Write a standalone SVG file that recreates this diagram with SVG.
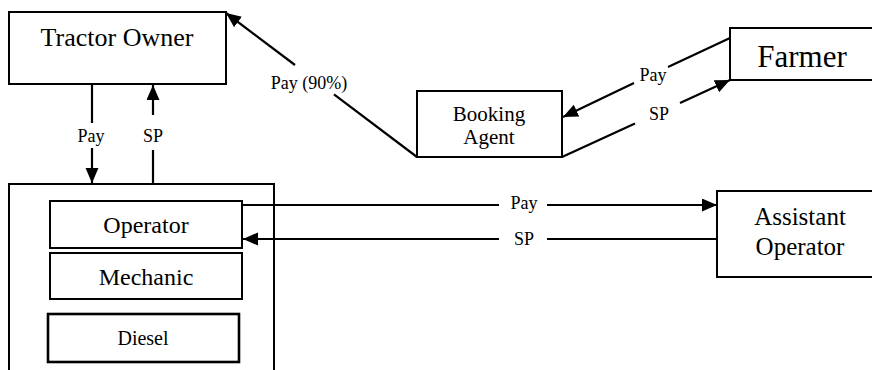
<svg xmlns="http://www.w3.org/2000/svg" width="872" height="370" viewBox="0 0 872 370">
<style>
.box{fill:#fff;stroke:#000;stroke-width:2}
.thick{stroke-width:2.6}
text{font-family:"Liberation Serif","Times New Roman",Times,"DejaVu Serif","Noto Serif",serif;fill:#000;text-anchor:middle}
.lbl{font-size:18px}
.ln{stroke:#000;stroke-width:2.2;fill:none}
.ar{marker-end:url(#ah)}
</style>
<defs>
<marker id="ah" markerUnits="userSpaceOnUse" markerWidth="16" markerHeight="14" refX="15" refY="6.5" orient="auto">
<path d="M0,0 L15,6.5 L0,13 Z" fill="#000"/>
</marker>
</defs>
<rect width="872" height="370" fill="#fff"/>
<g id="tractor-owner">
<rect class="box" x="9" y="12" width="217" height="72"/>
<text x="117" y="46" font-size="26">Tractor Owner</text>
</g>
<g id="operator-group">
<rect class="box" x="9" y="184" width="265" height="190"/>
</g>
<g id="operator">
<rect class="box" x="50" y="201" width="192" height="47"/>
<text x="146" y="233" font-size="24">Operator</text>
</g>
<g id="mechanic">
<rect class="box" x="50" y="253" width="192" height="46"/>
<text x="146" y="285" font-size="24">Mechanic</text>
</g>
<g id="diesel">
<rect class="box thick" x="48" y="314" width="191" height="48"/>
<text x="143" y="345" font-size="20">Diesel</text>
</g>
<g id="booking-agent">
<rect class="box" x="417" y="91" width="145" height="66"/>
<text x="489" y="121" font-size="21">Booking</text>
<text x="489" y="144" font-size="21">Agent</text>
</g>
<g id="farmer">
<rect class="box" x="730" y="28" width="146" height="52"/>
<text x="802" y="67" font-size="31">Farmer</text>
</g>
<g id="assistant-operator">
<rect class="box" x="717" y="191" width="159" height="86"/>
<text x="800" y="225" font-size="25">Assistant</text>
<text x="800" y="255" font-size="25">Operator</text>
</g>
<g id="connectors">
<line class="ln" x1="92" y1="84" x2="92" y2="123"/>
<line class="ln ar" x1="92" y1="148" x2="92" y2="183"/>
<text class="lbl" x="91" y="142">Pay</text>
<line class="ln" x1="153" y1="183" x2="153" y2="150"/>
<line class="ln ar" x1="153" y1="115" x2="153" y2="85"/>
<text class="lbl" x="153" y="142">SP</text>
<line class="ln" x1="417" y1="157" x2="334" y2="94.4"/>
<line class="ln ar" x1="295" y1="65" x2="226" y2="13"/>
<text class="lbl" x="309" y="89">Pay (90%)</text>
<line class="ln" x1="730" y1="38" x2="668" y2="67"/>
<line class="ln ar" x1="634" y1="83" x2="563" y2="117"/>
<text class="lbl" x="653" y="81">Pay</text>
<line class="ln" x1="562" y1="157" x2="635" y2="123.6"/>
<line class="ln ar" x1="680" y1="103" x2="730" y2="80"/>
<text class="lbl" x="659" y="120">SP</text>
<line class="ln" x1="242" y1="205" x2="499" y2="205"/>
<line class="ln ar" x1="547" y1="205" x2="717" y2="205"/>
<text class="lbl" x="524" y="209">Pay</text>
<line class="ln" x1="717" y1="239" x2="547" y2="239"/>
<line class="ln ar" x1="499" y1="239" x2="243" y2="239"/>
<text class="lbl" x="524" y="245">SP</text>
</g>
</svg>
